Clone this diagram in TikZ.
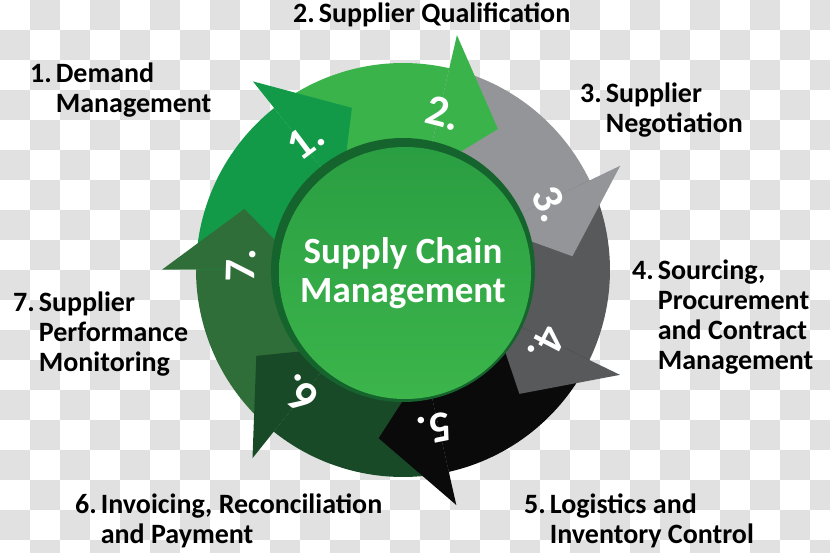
\documentclass[tikz,border=0pt]{standalone}
\usepackage{fontspec}
\setmainfont{Carlito}
\usepackage{tikz}
\usetikzlibrary{calc}
\definecolor{SCCheck}{RGB}{225,225,225}
\definecolor{SCStepA}{RGB}{18,154,72}
\definecolor{SCStepB}{RGB}{58,180,74}
\definecolor{SCStepC}{RGB}{147,149,152}
\definecolor{SCStepD}{RGB}{88,89,91}
\definecolor{SCStepE}{RGB}{10,10,10}
\definecolor{SCStepF}{RGB}{24,74,40}
\definecolor{SCStepG}{RGB}{47,110,56}
\definecolor{SCRim}{RGB}{22,100,45}
\definecolor{SCDiscTop}{RGB}{42,158,66}
\definecolor{SCDiscBot}{RGB}{60,181,75}

\begin{document}
\begin{tikzpicture}[x=1pt, y=1pt,
          lbl/.style={anchor=base west, inner sep=0pt, text=black,
                      font=\fontsize{28}{30}\selectfont\bfseries},
          num/.style={inner sep=0pt, text=white,
                      font=\fontsize{44}{44}\selectfont\bfseries},
          hubtext/.style={inner sep=0pt, align=center, text=white,
                      font=\fontsize{37}{39}\selectfont\bfseries}
        ]
        \useasboundingbox (0,0) rectangle (830,-553);
        % checkered background
        \begin{scope}
          \clip (0,0) rectangle (830,-553);
          \fill[white] (0,0) rectangle (830,-553);
          \foreach \i in {0,...,27} {
            \foreach \j in {0,...,18} {
              \pgfmathtruncatemacro\odd{mod(\i+\j,2)}
              \ifnum\odd=1 \fill[SCCheck] ({30*\i},{-30*\j}) rectangle ++(30,-30); \fi
            }
          }
        \end{scope}

        % ring of seven arrows
        \begin{scope}[shift={(403,-270)}]
          \foreach \k/\col in {1/SCStepA, 2/SCStepB, 3/SCStepC, 4/SCStepD,
                               5/SCStepE, 6/SCStepF, 7/SCStepG} {
            \pgfmathsetmacro\tb{128.5-51.43*(\k-1)}
            \pgfmathsetmacro\ts{\tb+51.43}
            \fill[\col] (\ts:207) arc[start angle=\ts, end angle=\tb, radius=207]
              -- (\tb:115) arc[start angle=\tb, end angle=\ts, radius=115] -- cycle;
          }
          \foreach \k/\col in {1/SCStepA, 2/SCStepB, 3/SCStepC, 4/SCStepD,
                               5/SCStepE, 6/SCStepF, 7/SCStepG} {
            \pgfmathsetmacro\tb{128.5-51.43*(\k-1)}
            \fill[\col] (\tb:241) -- ({\tb-21}:170) -- (\tb:99) -- cycle;
          }

          % hub disc
          \fill[SCRim] (0,0) circle (132);
          \shade[top color=SCDiscTop, bottom color=SCDiscBot] (2,-3) circle (126);

          % step numbers
          \foreach \k in {1,...,7} {
            \pgfmathsetmacro\tn{127-51.43*(\k-1)}
            \node[num, rotate={\tn-90}] (n\k) at (\tn:162) {\k.};
          }

          \node[hubtext] (hub) at (0,-3) {Supply Chain\\Management};
        \end{scope}

        % step labels
        \node[lbl] (l1) at (30,-83) {\begin{tabular}[t]{@{}l@{\hspace{4pt}}l@{}}1. & Demand\\ & Management\end{tabular}};
        \node[lbl] (l2) at (293,-23) {2.\hspace{4pt}Supplier Qualification};
        \node[lbl] (l3) at (580,-103) {\begin{tabular}[t]{@{}l@{\hspace{4pt}}l@{}}3. & Supplier\\ & Negotiation\end{tabular}};
        \node[lbl] (l4) at (632,-280) {\begin{tabular}[t]{@{}l@{\hspace{4pt}}l@{}}4. & Sourcing,\\ & Procurement\\ & and Contract\\ & Management\end{tabular}};
        \node[lbl] (l5) at (524,-513) {\begin{tabular}[t]{@{}l@{\hspace{4pt}}l@{}}5. & Logistics and\\ & Inventory Control\end{tabular}};
        \node[lbl] (l6) at (75,-513) {\begin{tabular}[t]{@{}l@{\hspace{4pt}}l@{}}6. & Invoicing, Reconciliation\\ & and Payment\end{tabular}};
        \node[lbl] (l7) at (13,-312) {\begin{tabular}[t]{@{}l@{\hspace{4pt}}l@{}}7. & Supplier\\ & Performance\\ & Monitoring\end{tabular}};
      \end{tikzpicture}
\end{document}
